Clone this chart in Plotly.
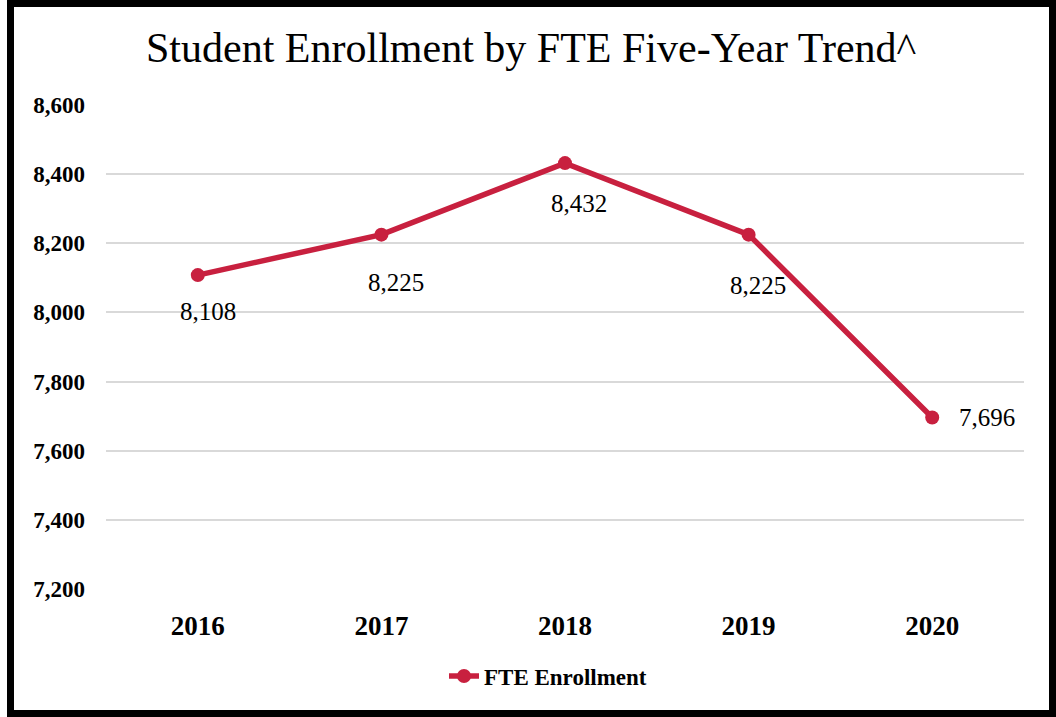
import plotly.graph_objects as go

years = [2016, 2017, 2018, 2019, 2020]
fte = [8108, 8225, 8432, 8225, 7696]
y_ticks = [7200, 7400, 7600, 7800, 8000, 8200, 8400, 8600]

# label offsets in pixels (style only)
label_dx = [10, 15, 14, 9, 55]
label_dy = [-36, -48, -40, -51, 0]

color = "#C8203F"
serif = "Liberation Serif, Times New Roman, serif"

fig = go.Figure()
fig.add_trace(go.Scatter(
    x=years, y=fte, mode="lines+markers",
    name="FTE Enrollment",
    line=dict(color=color, width=5.5),
    marker=dict(color=color, size=14),
    cliponaxis=False,
))

for yr, v, dx, dy in zip(years, fte, label_dx, label_dy):
    fig.add_annotation(x=yr, y=v, text=f"{v:,}", showarrow=False,
                       xshift=dx, yshift=dy, xanchor="center", yanchor="middle",
                       font=dict(family=serif, size=25, color="#000"))

L, R, T, B = 106, 1024, 105, 589
W, H = 1056, 717
pw, ph = R - L, B - T

def px(x):
    return (x - L) / pw

def py(y):
    return (B - y) / ph

fig.add_shape(type="rect", xref="paper", yref="paper",
              x0=px(10.5), x1=px(1052.5), y0=py(713.5), y1=py(3.5),
              line=dict(color="black", width=7), fillcolor="rgba(0,0,0,0)", layer="above")

fig.update_layout(
    width=W, height=H,
    margin=dict(l=L, r=W - R, t=T, b=H - B, pad=0),
    paper_bgcolor="white", plot_bgcolor="white",
    title=dict(text="Student Enrollment by FTE Five-Year Trend^", x=0.503, xanchor="center",
               y=1 - 47 / H, yanchor="middle",
               font=dict(family=serif, size=42, color="#000")),
    xaxis=dict(range=[years[0] - 0.5, years[-1] + 0.5], tickvals=years, tickformat="d",
               showgrid=False, zeroline=False, showline=False,
               ticks="", tickfont=dict(family=serif, size=27, color="#000", weight="bold"),
               ticklabelstandoff=18),
    yaxis=dict(range=[7200, 8600], tickvals=y_ticks, tickformat=",d",
               showgrid=True, gridcolor="#D9D9D9", gridwidth=2, zeroline=False, showline=False,
               ticks="", tickfont=dict(family=serif, size=23, color="#000", weight="bold"),
               ticklabelstandoff=20),
    showlegend=True,
    legend=dict(orientation="h", x=px(444), xanchor="left", y=py(676), yanchor="middle",
                font=dict(family=serif, size=23, color="#000", weight="bold")),
)

fig.write_html("out.html", config={"displayModeBar": False},
               post_script="document.body.style.margin='0';")
